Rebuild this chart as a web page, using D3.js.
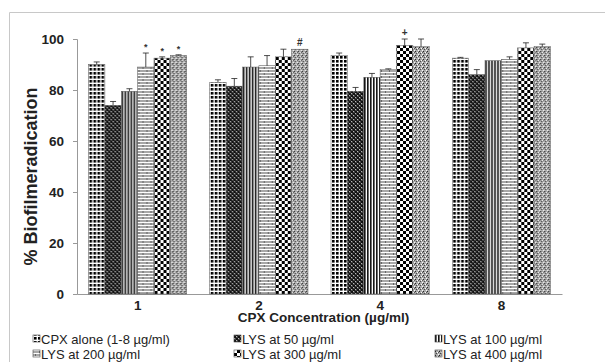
<!DOCTYPE html>
<html>
<head>
<meta charset="utf-8">
<script src="https://cdn.jsdelivr.net/npm/d3@7"></script>
<style>
  body { margin: 0; background: #fff; }
  svg { display: block; }
  text { font-family: "Liberation Sans", Arial, sans-serif; }
</style>
</head>
<body>
<svg width="605" height="362"></svg>
<script>
const svg = d3.select('svg')

// data
const groups = ['1', '2', '4', '8']
const seriesNames = ['CPX alone (1-8 µg/ml)', 'LYS at 50 µg/ml', 'LYS at 100 µg/ml',
  'LYS at 200 µg/ml', 'LYS at 300 µg/ml', 'LYS at 400 µg/ml']
const values = [
  [90, 74, 79.5, 89, 92.5, 93.5],
  [83, 81.5, 89, 89.5, 93, 96],
  [93.5, 79.5, 85, 88, 97.5, 97],
  [92.5, 86, 91.5, 92, 96.5, 97]
]
const errors = [
  [1, 1.5, 1, 5.5, 0.5, 0.3],
  [1, 3, 4, 4, 3, 0],
  [1, 1.5, 1.5, 0.3, 2.5, 3],
  [0.3, 2, 0, 1, 2, 1]
]
const marks = [
  {g: 0, s: 3, label: '*'}, {g: 0, s: 4, label: '*'}, {g: 0, s: 5, label: '*'},
  {g: 1, s: 5, label: '#'}, {g: 2, s: 4, label: '+'}
]
const yTicks = [0, 20, 40, 60, 80, 100]

// patterns
const defs = svg.append('defs')
const pat = (id, w, h, draw) => {
  const p = defs.append('pattern').attr('id', id)
    .attr('patternUnits', 'userSpaceOnUse').attr('width', w).attr('height', h)
  draw(p)
}
pat('p0', 4, 4, p => {
  p.append('rect').attr('width', 4).attr('height', 4).attr('fill', '#fff')
  p.append('rect').attr('x', 1).attr('y', 1).attr('width', 2.6).attr('height', 2.6).attr('fill', '#000')
})
pat('p1', 4, 4, p => {
  p.append('rect').attr('width', 4).attr('height', 4).attr('fill', '#444')
  p.append('rect').attr('width', 2).attr('height', 2).attr('fill', '#111')
  p.append('rect').attr('x', 2).attr('y', 2).attr('width', 2).attr('height', 2).attr('fill', '#111')
  p.append('rect').attr('x', 2).attr('y', 0).attr('width', 1).attr('height', 1).attr('fill', '#bbb')
  p.append('rect').attr('x', 0).attr('y', 2).attr('width', 1).attr('height', 1).attr('fill', '#bbb')
})
pat('p2', 3, 3, p => {
  p.append('rect').attr('width', 3).attr('height', 3).attr('fill', '#fff')
  p.append('rect').attr('width', 1.6).attr('height', 3).attr('fill', '#111')
})
pat('p3', 8, 6, p => {
  p.append('rect').attr('width', 8).attr('height', 6).attr('fill', '#a8a8a8')
  p.append('rect').attr('y', 0).attr('width', 8).attr('height', 1).attr('fill', '#fff')
  p.append('rect').attr('y', 3).attr('width', 8).attr('height', 1).attr('fill', '#fff')
  p.append('rect').attr('x', 2).attr('y', 1).attr('width', 1).attr('height', 2).attr('fill', '#666')
  p.append('rect').attr('x', 6).attr('y', 4).attr('width', 1).attr('height', 2).attr('fill', '#666')
})
pat('p4', 6, 6, p => {
  p.append('rect').attr('width', 6).attr('height', 6).attr('fill', '#fff')
  p.append('rect').attr('width', 3).attr('height', 3).attr('fill', '#000')
  p.append('rect').attr('x', 3).attr('y', 3).attr('width', 3).attr('height', 3).attr('fill', '#000')
})
pat('p5', 4, 4, p => {
  p.append('rect').attr('width', 4).attr('height', 4).attr('fill', '#aaa')
  p.append('rect').attr('x', 0).attr('y', 0).attr('width', 1).attr('height', 1).attr('fill', '#222')
  p.append('rect').attr('x', 2).attr('y', 1).attr('width', 1).attr('height', 1).attr('fill', '#fff')
  p.append('rect').attr('x', 1).attr('y', 2).attr('width', 1).attr('height', 1).attr('fill', '#444')
  p.append('rect').attr('x', 3).attr('y', 3).attr('width', 1).attr('height', 1).attr('fill', '#fff')
  p.append('rect').attr('x', 3).attr('y', 1).attr('width', 1).attr('height', 1).attr('fill', '#555')
})

// outer frame (top and left edges only visible)
svg.append('path')
  .attr('d', 'M9.5,362 V12.5 H605')
  .attr('fill', 'none').attr('stroke', '#c8c8c8')

const margin = {left: 77, right: 43, top: 39, bottom: 68}
const innerWidth = 605 - margin.left - margin.right
const innerHeight = 362 - margin.top - margin.bottom

const g = svg.append('g')
  .attr('transform', `translate(${margin.left}, ${margin.top})`)

const x0 = d3.scaleBand().domain(groups).range([0, innerWidth]).paddingInner(0.19).paddingOuter(0.095)
const x1 = d3.scaleBand().domain(d3.range(6)).range([0, x0.bandwidth()])
const y = d3.scaleLinear().domain([0, 100]).range([innerHeight, 0])

// axes
const yAxisG = g.append('g')
  .call(d3.axisLeft(y).tickValues(yTicks).tickSize(4).tickPadding(9))
yAxisG.select('.domain').attr('stroke', '#999')
yAxisG.selectAll('.tick line').attr('stroke', '#999')
yAxisG.selectAll('text').attr('font-size', 13.5).attr('font-weight', 'bold').attr('fill', '#222')

const xAxisG = g.append('g')
  .attr('transform', `translate(0, ${innerHeight})`)
  .call(d3.axisBottom(x0).tickSize(0).tickSizeOuter(0).tickPadding(6))
xAxisG.select('.domain').attr('stroke', '#999')
xAxisG.selectAll('text').attr('font-size', 13.5).attr('font-weight', 'bold').attr('fill', '#222')

// bars
const grp = g.selectAll('.grp')
  .data(values)
  .enter().append('g')
  .attr('transform', (d, i) => `translate(${x0(groups[i])}, 0)`)

grp.selectAll('rect')
  .data(d => d)
  .enter().append('rect')
  .attr('x', (d, i) => x1(i))
  .attr('y', d => y(d))
  .attr('width', x1.bandwidth())
  .attr('height', d => innerHeight - y(d))
  .attr('fill', (d, i) => `url(#p${i})`)
  .attr('stroke', '#555')
  .attr('stroke-width', 0.5)

// error bars
grp.each(function (vals, gi) {
  const sel = d3.select(this)
  vals.forEach((v, si) => {
    const e = errors[gi][si]
    if (e <= 0) return
    const cx = x1(si) + x1.bandwidth() / 2
    sel.append('line').attr('x1', cx).attr('x2', cx)
      .attr('y1', y(v)).attr('y2', y(v + e)).attr('stroke', '#222').attr('stroke-width', 0.8)
    sel.append('line').attr('x1', cx - 3).attr('x2', cx + 3)
      .attr('y1', y(v + e)).attr('y2', y(v + e)).attr('stroke', '#222').attr('stroke-width', 0.8)
  })
})

// significance marks
g.selectAll('.sig')
  .data(marks)
  .enter().append('text')
  .attr('x', d => x0(groups[d.g]) + x1(d.s) + x1.bandwidth() / 2)
  .attr('y', d => y(values[d.g][d.s] + errors[d.g][d.s]) - 3)
  .attr('text-anchor', 'middle')
  .attr('font-size', d => d.label === '*' ? 9 : 10)
  .attr('font-weight', 'bold')
  .attr('fill', '#333')
  .text(d => d.label)

// axis titles
g.append('text')
  .attr('transform', `translate(-40, ${innerHeight / 2 + 10}) rotate(-90)`)
  .attr('text-anchor', 'middle')
  .attr('font-size', 18)
  .attr('font-weight', 'bold')
  .attr('fill', '#222')
  .text('% Biofilmeradication')

g.append('text')
  .attr('x', innerWidth / 2 + 4)
  .attr('y', innerHeight + 28)
  .attr('text-anchor', 'middle')
  .attr('font-size', 13.5)
  .attr('font-weight', 'bold')
  .attr('fill', '#222')
  .text('CPX Concentration (µg/ml)')

// legend
const legX = [33, 234, 435]
const legY = [344, 359]
const leg = svg.selectAll('.leg')
  .data(seriesNames)
  .enter().append('g')
  .attr('transform', (d, i) => `translate(${legX[i % 3]}, ${legY[Math.floor(i / 3)]})`)
leg.append('rect')
  .attr('x', 0).attr('y', -9).attr('width', 7).attr('height', 7)
  .attr('fill', (d, i) => `url(#p${i})`)
  .attr('stroke', '#444').attr('stroke-width', 0.6)
leg.append('text')
  .attr('x', 8).attr('y', 0)
  .attr('font-size', 13)
  .attr('fill', '#222')
  .text(d => d)
</script>
</body>
</html>
